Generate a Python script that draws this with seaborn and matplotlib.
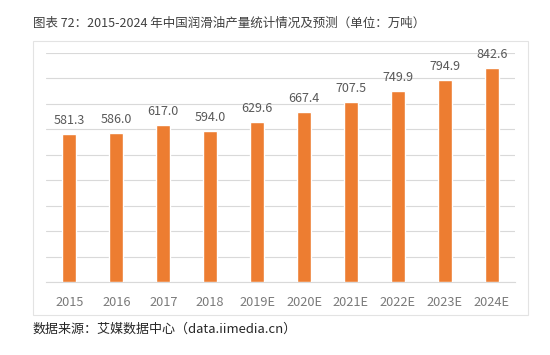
import matplotlib
matplotlib.use("Agg")
import matplotlib.pyplot as plt
import seaborn as sns
import pandas as pd
from matplotlib.patches import Rectangle

years = ["2015", "2016", "2017", "2018", "2019E", "2020E", "2021E", "2022E", "2023E", "2024E"]
output = [581.3, 586.0, 617.0, 594.0, 629.6, 667.4, 707.5, 749.9, 794.9, 842.6]
title_text = "图表 72：2015-2024 年中国润滑油产量统计情况及预测（单位：万吨）"
source_text = "数据来源：艾媒数据中心（data.iimedia.cn）"

sns.set_theme(style="white")
plt.rcParams['font.family'] = ['Noto Sans CJK SC', 'DejaVu Sans']

df = pd.DataFrame({"year": years, "value": output})

fig = plt.figure(figsize=(5.5, 3.55), dpi=100)
fig.patch.set_facecolor("white")

# outer chart frame
frame = Rectangle((0.06, 0.1127), 0.9, 0.7718, transform=fig.transFigure,
                  facecolor="white", edgecolor="#e3e3e3", linewidth=0.8, zorder=-5)
fig.patches.append(frame)

ax = fig.add_axes([0.0836, 0.2056, 0.853, 0.645])
ax.set_zorder(2)
ax.set_facecolor("none")
sns.barplot(data=df, x="year", y="value", color="#ED7D31", width=0.3,
            saturation=1, ax=ax, zorder=3)

ax.set_ylim(0, 900)
ax.set_yticks(range(0, 901, 100))
ax.yaxis.grid(True, color="#d9d9d9", linewidth=0.8, zorder=0)
ax.set_axisbelow(True)
ax.tick_params(axis="y", left=False, labelleft=False)
ax.tick_params(axis="x", bottom=False, labelsize=9.2, colors="#7a7a7a", pad=4)
for s in ["top", "right", "left"]:
    ax.spines[s].set_visible(False)
ax.spines["bottom"].set_color("#d9d9d9")
ax.spines["bottom"].set_linewidth(0.8)
ax.set_xlabel("")
ax.set_ylabel("")
ax.set_xlim(-0.5, len(years) - 0.5)

ax.bar_label(ax.containers[0], fmt="%.1f", padding=5, fontsize=9, color="#595959")

fig.text(0.06, 0.935, title_text, fontsize=9.0, color="#404040", va="center", ha="left")
fig.text(0.06, 0.073, source_text, fontsize=9.4, color="#262626", va="center", ha="left")

fig.savefig("out.png", dpi=100, facecolor="white")
